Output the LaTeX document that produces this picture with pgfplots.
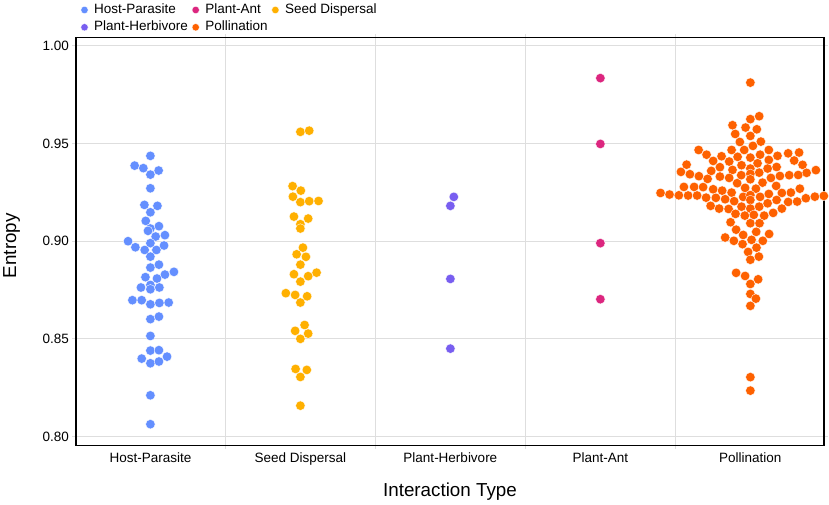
\documentclass[border=0pt]{standalone}
\usepackage{pgfplots}
\pgfplotsset{compat=1.18}
\usepackage{fontspec}
\setmainfont{Liberation Sans}
\definecolor{cHP}{HTML}{648FFF}
\definecolor{cPH}{HTML}{785EF0}
\definecolor{cPA}{HTML}{DC267F}
\definecolor{cPol}{HTML}{FE6100}
\definecolor{cSD}{HTML}{FFB000}
\definecolor{gridc}{HTML}{DEDEDE}
\begin{document}
\begin{tikzpicture}
\path[use as bounding box] (0,0) rectangle (829bp,505bp);
\begin{axis}[
 at={(76bp,59.3bp)}, anchor=south west,
 scale only axis, width=748bp, height=408bp,
 xmin=-0.496, xmax=4.491, ymin=0.7953, ymax=1.0042,
 axis line style={black, line width=1.5bp},
 tick align=outside, major tick length=3.5bp,
 tick style={gridc, line width=1bp},
 grid=major, major grid style={gridc, line width=1.1bp},
 xtick={0.5,1.5,2.5,3.5}, xticklabels={{},{},{},{}},
 extra x ticks={0,1,2,3,4},
 extra x tick labels={Host-Parasite,Seed Dispersal,Plant-Herbivore,Plant-Ant,Pollination},
 extra x tick style={grid=none, major tick length=0pt,
   xticklabel style={anchor=base, inner sep=0pt, yshift=-17bp}},
 ytick={0.80,0.85,0.90,0.95,1.00},
 /pgf/number format/assume math mode=true,
 yticklabel style={/pgf/number format/fixed, /pgf/number format/fixed zerofill, /pgf/number format/precision=2},
 ticklabel style={font=\fontsize{13.5bp}{16bp}\selectfont},
 xlabel={Interaction Type},
 xlabel style={at={(axis description cs:0.5,-0.1257)}, anchor=base, inner sep=0pt, font=\fontsize{18.8bp}{22bp}\selectfont},
 ylabel={Entropy},
 ylabel style={at={(axis description cs:-0.0802,0.49)}, anchor=base, inner sep=0pt, font=\fontsize{18.8bp}{22bp}\selectfont},
 legend columns=3,
 legend cell align=left,
 legend style={at={(axis description cs:0.00615,1.0896)}, anchor=north west, draw=none, fill=none, inner sep=0pt,
   font=\fontsize{13.5bp}{16bp}\selectfont,
   nodes={inner xsep=0pt, inner ysep=2.15bp, text height=10bp, text depth=3bp},
   /tikz/every odd column/.style={column sep=6bp},
   /tikz/every even column/.style={column sep=4bp}},
 legend image code/.code={\draw[#1,mark size=3.7bp] plot coordinates {(3.4bp,0bp)};},
 every axis plot/.append style={only marks, mark=*, mark size=4.75bp},
]
\addplot[color=cHP, mark options={draw=white, line width=0.35bp, fill=cHP}] table {
x y
0.000 0.9437
-0.105 0.9387
-0.047 0.9374
0.055 0.9362
0.000 0.9341
0.000 0.9271
-0.040 0.9186
0.047 0.9181
0.000 0.9148
-0.031 0.9104
0.057 0.9077
0.000 0.9065
-0.016 0.9053
0.035 0.9024
0.097 0.9031
-0.149 0.9000
0.000 0.8990
-0.100 0.8969
-0.038 0.8955
0.040 0.8955
0.091 0.8978
0.000 0.8921
0.000 0.8865
0.057 0.8880
0.097 0.8829
0.157 0.8843
-0.033 0.8816
0.044 0.8809
0.000 0.8776
0.000 0.8754
-0.063 0.8763
0.060 0.8763
-0.120 0.8698
-0.058 0.8698
0.000 0.8677
0.060 0.8684
0.122 0.8686
0.000 0.8601
0.057 0.8614
0.000 0.8515
0.000 0.8440
0.057 0.8442
-0.058 0.8399
0.000 0.8375
0.057 0.8384
0.111 0.8409
0.000 0.8211
0.000 0.8063
};
\addlegendentry{Host-Parasite}
\addplot[color=cPA, mark options={draw=white, line width=0.35bp, fill=cPA}] table {
x y
3 0.9835
3 0.9498
3 0.8990
3 0.8703
};
\addlegendentry{Plant-Ant}
\addplot[color=cSD, mark options={draw=white, line width=0.35bp, fill=cSD}] table {
x y
1.000 0.9560
1.059 0.9566
0.948 0.9282
1.003 0.9259
0.950 0.9228
1.000 0.9200
1.059 0.9205
1.121 0.9206
0.957 0.9126
1.052 0.9116
1.000 0.9087
1.000 0.9065
1.017 0.8967
0.975 0.8933
1.037 0.8920
1.000 0.8880
0.957 0.8831
1.052 0.8821
1.108 0.8839
1.000 0.8793
0.903 0.8734
0.965 0.8725
1.045 0.8718
1.000 0.8686
1.028 0.8571
0.965 0.8541
1.052 0.8527
1.000 0.8500
0.968 0.8346
1.043 0.8341
1.000 0.8305
1.000 0.8158
};
\addlegendentry{Seed Dispersal}
\addplot[color=cPH, mark options={draw=white, line width=0.35bp, fill=cPH}] table {
x y
2.023 0.9227
2.000 0.9181
2.000 0.8807
2.000 0.8450
};
\addlegendentry{Plant-Herbivore}
\addplot[color=cPol, mark options={draw=white, line width=0.35bp, fill=cPol}] table {
x y
4.000 0.9812
4.059 0.9640
4.000 0.9625
3.881 0.9594
3.968 0.9582
4.043 0.9573
3.899 0.9549
4.000 0.9539
3.930 0.9508
4.070 0.9510
4.017 0.9488
3.655 0.9467
3.875 0.9467
3.959 0.9467
4.123 0.9467
4.252 0.9450
4.325 0.9454
3.708 0.9443
4.065 0.9443
3.808 0.9435
3.915 0.9432
4.181 0.9437
4.000 0.9428
3.752 0.9411
3.859 0.9408
4.123 0.9416
4.292 0.9413
3.575 0.9392
3.797 0.9379
4.048 0.9399
3.941 0.9389
4.348 0.9391
4.175 0.9380
4.115 0.9372
4.000 0.9372
3.537 0.9355
3.597 0.9343
3.739 0.9360
3.881 0.9365
4.059 0.9351
4.437 0.9364
4.499 0.9364
4.375 0.9350
4.319 0.9339
4.259 0.9338
4.197 0.9334
4.000 0.9345
3.657 0.9333
3.939 0.9338
3.797 0.9331
3.859 0.9324
3.715 0.9319
4.137 0.9324
4.000 0.9317
4.081 0.9300
3.912 0.9297
3.557 0.9278
3.625 0.9278
3.685 0.9277
3.752 0.9266
3.812 0.9259
3.875 0.9249
3.965 0.9273
4.037 0.9269
4.172 0.9283
4.330 0.9269
4.270 0.9249
4.210 0.9247
3.401 0.9247
3.461 0.9239
3.523 0.9235
3.585 0.9234
3.645 0.9234
3.705 0.9223
3.770 0.9222
3.832 0.9215
3.892 0.9205
3.952 0.9227
4.000 0.9236
4.065 0.9227
4.123 0.9242
4.175 0.9211
4.252 0.9201
4.312 0.9203
4.370 0.9220
4.430 0.9228
4.490 0.9232
4.000 0.9211
3.735 0.9181
3.792 0.9167
3.855 0.9165
3.941 0.9177
4.000 0.9167
4.059 0.9177
4.115 0.9194
4.152 0.9145
4.210 0.9167
3.901 0.9140
3.963 0.9131
4.023 0.9135
4.092 0.9131
3.868 0.9097
4.000 0.9092
4.061 0.9092
3.905 0.9059
4.039 0.9048
3.952 0.9032
4.125 0.9037
3.832 0.9019
3.890 0.9002
4.008 0.9007
4.083 0.9002
3.948 0.8985
4.041 0.8967
3.985 0.8945
4.057 0.8921
4.000 0.8905
3.905 0.8838
3.965 0.8822
4.052 0.8805
4.000 0.8781
4.000 0.8730
4.037 0.8706
4.000 0.8669
4.000 0.8304
4.000 0.8235
};
\addlegendentry{Pollination}
\end{axis}
\end{tikzpicture}
\end{document}
